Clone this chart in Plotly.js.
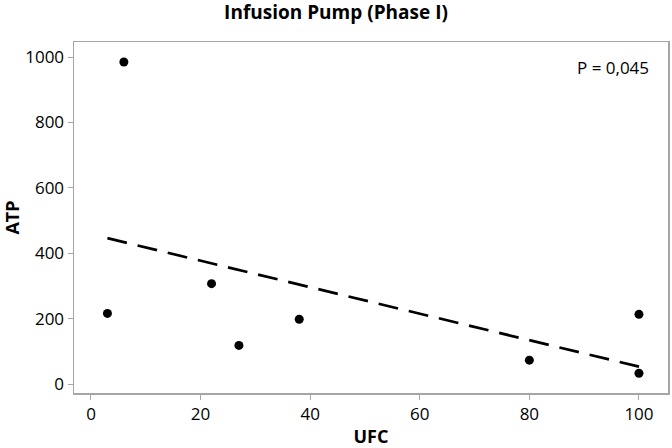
<!DOCTYPE html>
<html>
<head>
<meta charset="utf-8">
<script src="https://cdn.plot.ly/plotly-3.0.1.min.js"></script>
<style>html,body{margin:0;padding:0;background:#fff;}#chart{width:672px;height:448px;}</style>
</head>
<body>
<div id="chart"></div>
<script>
const ufc = [3, 6, 22, 27, 38, 80, 100, 100];
const atp = [216, 985, 307, 118, 198, 73, 213, 33];
const fitX = [3, 100];
const fitY = [446, 53];
const xTicks = [0, 20, 40, 60, 80, 100];
const yTicks = [0, 200, 400, 600, 800, 1000];
const pLabel = 'P = 0,045';

const fontFam = '"Open Sans", "Noto Sans", sans-serif';

const traces = [
  {x: fitX, y: fitY, mode: 'lines', type: 'scatter',
   line: {color: '#000', width: 2.7, dash: '20px,11px'}, hoverinfo: 'skip'},
  {x: ufc, y: atp, mode: 'markers', type: 'scatter',
   marker: {color: '#000', size: 9}}
];

const axisCommon = {
  showgrid: false, zeroline: false, showline: true, mirror: true,
  linecolor: '#a6a6a6', linewidth: 1.5, ticks: 'outside', ticklen: 5,
  tickcolor: '#a6a6a6', tickwidth: 1,
  tickfont: {family: fontFam, size: 17, color: '#000'}
};

const layout = {
  width: 672, height: 448,
  margin: {l: 74, r: 4, t: 42, b: 55},
  paper_bgcolor: '#fff', plot_bgcolor: '#fff',
  showlegend: false,
  title: {text: '<b>Infusion Pump (Phase I)</b>', x: 0.5, xanchor: 'center', y: 0.972, yanchor: 'middle',
          font: {family: fontFam, size: 19, color: '#000'}},
  xaxis: Object.assign({}, axisCommon, {
    range: [-3.1, 105.3], tickvals: xTicks, ticktext: xTicks.map(String),
    title: {text: '<b>UFC</b>', font: {family: fontFam, size: 18, color: '#000'}, standoff: 6}
  }),
  yaxis: Object.assign({}, axisCommon, {
    range: [-27.5, 1046], tickvals: yTicks, ticktext: yTicks.map(String),
    title: {text: '<b>ATP</b>', font: {family: fontFam, size: 18, color: '#000'}, standoff: 8}
  }),
  annotations: [{
    xref: 'paper', yref: 'paper', x: 0.972, y: 0.928, xanchor: 'right', yanchor: 'middle',
    text: pLabel, showarrow: false, font: {family: fontFam, size: 17, color: '#000'}
  }]
};

Plotly.newPlot('chart', traces, layout, {displayModeBar: false, staticPlot: true});
</script>
</body>
</html>
